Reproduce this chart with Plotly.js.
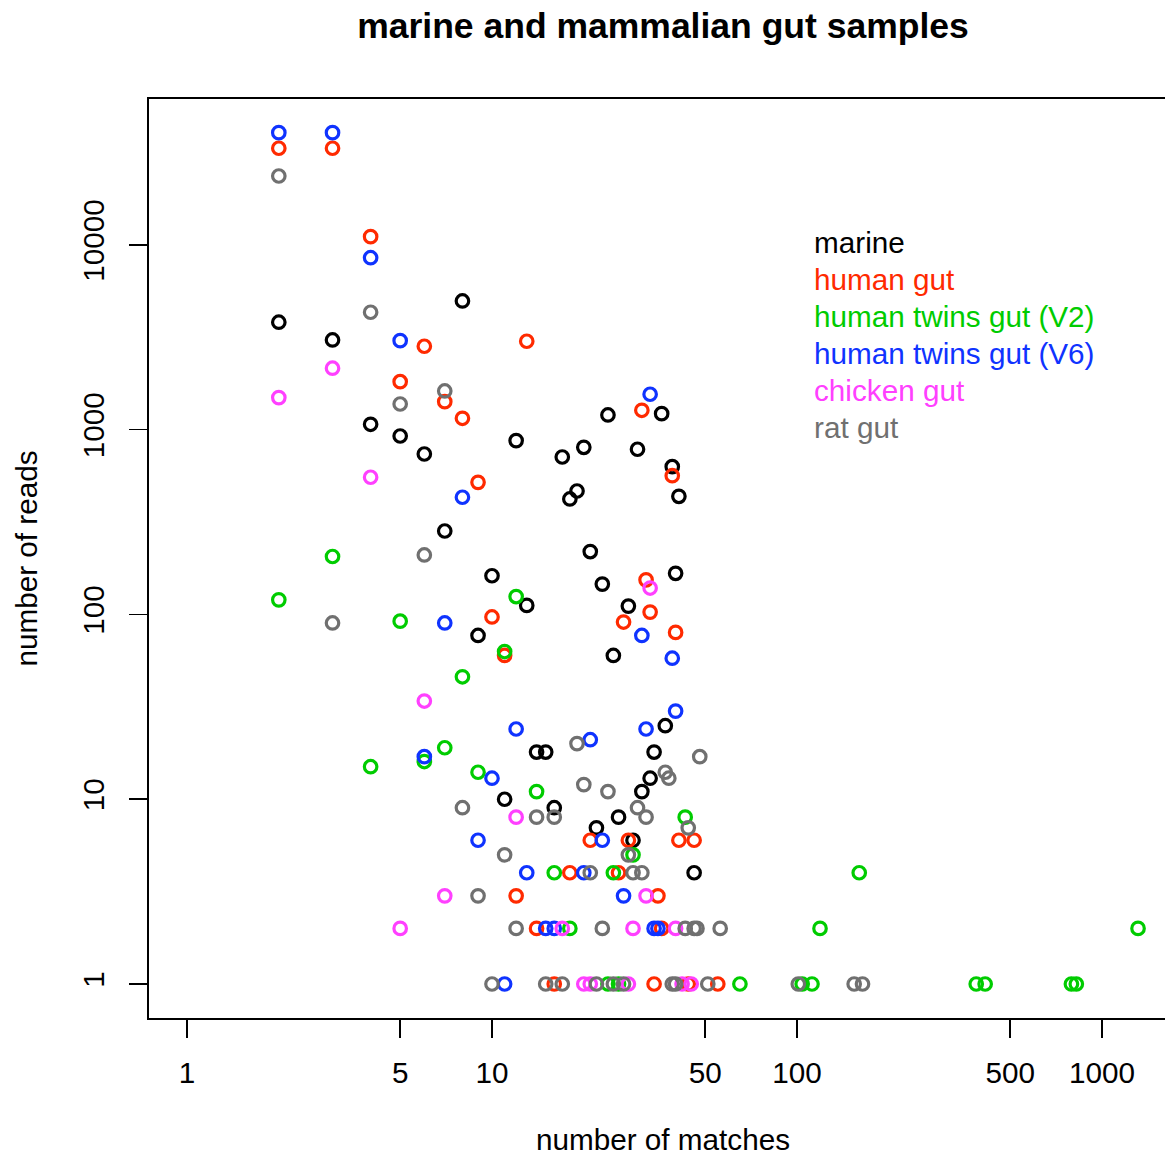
<!DOCTYPE html>
<html>
<head>
<meta charset="utf-8">
<script src="https://cdn.plot.ly/plotly-3.0.1.min.js"></script>
<style>
  html, body { margin: 0; padding: 0; background: #ffffff; overflow: hidden; }
  #chart { width: 1178px; height: 1156px; }
</style>
</head>
<body>
<div id="chart"></div>
<script>
// Number of matches (x) and number of reads (y) per sample group
const marineMatches = [2,3,4,5,6,7,8,9,10,11,12,13,14,15,16,17,18,19,20,21,22,23,24,25,26,28,29,30,31,33,34,36,37,39,40,41,46];
const marineReads   = [3818,3062,1070,925,739,283,4977,77,162,10,873,112,18,18,9,712,422,466,803,219,7,146,1202,60,8,111,6,784,11,13,18,1222,25,631,167,436,4];

const humanGutMatches = [2,3,4,5,6,7,8,9,10,11,12,13,14,16,18,21,26,27,28,31,32,33,35,36,34,39,40,41,44,46,55];
const humanGutReads   = [33380,33380,11090,1820,2830,1419,1153,519,97,60,3,3012,2,1,4,6,4,91,6,1274,154,103,3,2,1,564,80,6,1,6,1];

const twinsV2Matches = [2,3,4,5,6,7,8,9,11,12,14,16,18,24,25,26,29,43,65,104,112,119,160,387,414,794,824,1313];
const twinsV2Reads   = [120,206,15,92,16,19,46,14,63,125,11,4,2,1,4,1,5,8,1,1,1,2,4,1,1,1,1,2];

const twinsV6Matches = [2,3,4,5,6,7,8,9,10,11,12,13,15,16,20,21,23,27,31,32,33,34,35,39,40];
const twinsV6Reads   = [40550,40550,8530,3034,17,90,431,6,13,1,24,4,2,2,4,21,6,3,77,24,1556,2,2,58,30];

const chickenMatches = [2,3,4,5,6,7,12,17,20,21,28,29,32,33,40,42,45];
const chickenReads   = [1492,2153,553,2,34,3,8,2,1,1,1,2,3,139,2,1,1];

const ratMatches = [2,3,4,5,6,7,8,9,10,11,12,14,15,16,17,19,20,21,22,23,24,25,27,28,29,30,31,32,37,38,39,40,43,44,46,47,48,51,56,101,154,164];
const ratReads   = [23620,90,4323,1378,210,1621,9,3,1,5,2,8,1,8,1,20,12,4,1,2,11,1,1,5,4,9,4,8,14,13,1,1,2,7,2,2,17,1,2,1,1,1];

const groupNames  = ["marine", "human gut", "human twins gut (V2)", "human twins gut (V6)", "chicken gut", "rat gut"];
const groupColors = ["#000000", "#ff2a00", "#00cc00", "#0f33ff", "#ff40ff", "#707070"];

const xTickVals = [1, 5, 10, 50, 100, 500, 1000];
const yTickVals = [1, 10, 100, 1000, 10000];

const groups = [
  [marineMatches, marineReads],
  [humanGutMatches, humanGutReads],
  [twinsV2Matches, twinsV2Reads],
  [twinsV6Matches, twinsV6Reads],
  [chickenMatches, chickenReads],
  [ratMatches, ratReads]
];

const FONT = "Liberation Sans, Arial, Helvetica, sans-serif";
const TEXT_SIZE = 29.7;

const traces = groups.map(function (g, i) {
  return {
    type: "scatter",
    mode: "markers",
    name: groupNames[i],
    x: g[0],
    y: g[1],
    marker: {
      symbol: "circle-open",
      size: 12.5,
      color: groupColors[i],
      line: { color: groupColors[i], width: 3.2 }
    },
    showlegend: false,
    hoverinfo: "skip"
  };
});

// Text-only key in the upper right of the plot
const keyLeft = 0.6451, keyTop = 0.844, keyStep = 0.0403;
const keyNotes = groupNames.map(function (name, i) {
  return {
    text: name,
    xref: "paper", yref: "paper",
    x: keyLeft, y: keyTop - i * keyStep,
    xanchor: "left", yanchor: "middle",
    showarrow: false,
    font: { family: FONT, size: TEXT_SIZE, color: groupColors[i] }
  };
});

const layout = {
  width: 1178,
  height: 1156,
  margin: { l: 149, r: 1, t: 99, b: 138 },
  paper_bgcolor: "#ffffff",
  plot_bgcolor: "#ffffff",
  showlegend: false,
  hovermode: false,
  title: {
    text: "<b>marine and mammalian gut samples</b>",
    font: { family: FONT, size: 35.5, color: "#000000" },
    xref: "paper", x: 0.5, xanchor: "center",
    yref: "container", y: 1 - 26 / 1156, yanchor: "middle"
  },
  xaxis: {
    type: "log",
    range: [-0.1246, 3.246],
    tickmode: "array",
    tickvals: xTickVals,
    ticktext: xTickVals.map(String),
    ticks: "outside",
    ticklen: 18,
    tickwidth: 1.5,
    tickcolor: "#000000",
    ticklabelstandoff: 10,
    tickfont: { family: FONT, size: TEXT_SIZE, color: "#000000" },
    showline: true,
    mirror: true,
    linecolor: "#000000",
    linewidth: 1.6,
    showgrid: false,
    zeroline: false,
    title: {
      text: "number of matches",
      font: { family: FONT, size: TEXT_SIZE, color: "#000000" },
      standoff: 50
    }
  },
  yaxis: {
    type: "log",
    range: [-0.184, 4.790],
    tickmode: "array",
    tickvals: yTickVals,
    ticktext: yTickVals.map(String),
    tickangle: -90,
    ticks: "outside",
    ticklen: 18,
    tickwidth: 1.5,
    tickcolor: "#000000",
    ticklabelstandoff: 14,
    tickfont: { family: FONT, size: TEXT_SIZE, color: "#000000" },
    showline: true,
    mirror: false,
    linecolor: "#000000",
    linewidth: 1.6,
    showgrid: false,
    zeroline: false,
    title: {
      text: "number of reads",
      font: { family: FONT, size: TEXT_SIZE, color: "#000000" },
      standoff: 30
    }
  },
  annotations: keyNotes
};

Plotly.newPlot("chart", traces, layout, { displayModeBar: false, staticPlot: true });
</script>
</body>
</html>
